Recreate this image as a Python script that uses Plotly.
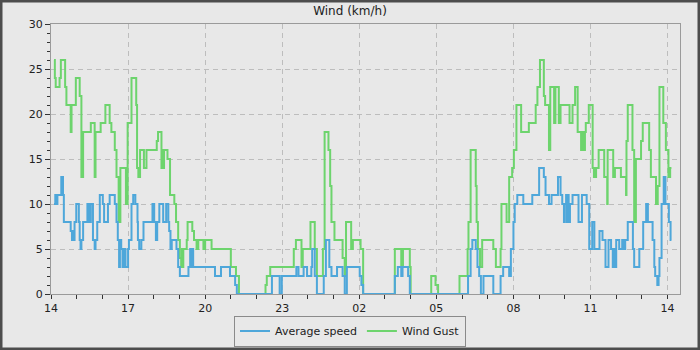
import pandas as pd
import plotly.graph_objects as go

START = "2024-06-14 14:00"
END_MINUTES = 1469

# Change points: minutes after START, value in km/h (step series)
gust_minutes = [7, 9, 11, 20, 23, 33, 36, 46, 48, 58, 67, 71, 72, 73, 75, 93, 102, 104, 116, 127,
                137, 141, 149, 153, 158, 162, 175, 179, 188, 199, 201, 204, 208, 217, 223, 247, 250,
                258, 261, 263, 264, 272, 278, 288, 292, 297, 301, 304, 306, 307, 309, 317, 319, 330,
                334, 340, 344, 356, 360, 375, 420, 432, 439, 501, 504, 512, 567, 572, 585, 588, 606,
                616, 621, 635, 639, 648, 652, 655, 662, 681, 686, 689, 701, 705, 723, 729, 803, 818,
                822, 838, 840, 888, 898, 904, 954, 973, 975, 980, 992, 994, 997, 1002, 1007, 1033,
                1039, 1050, 1052, 1064, 1070, 1077, 1081, 1087, 1098, 1116, 1132, 1136, 1142, 1151,
                1154, 1163, 1166, 1175, 1178, 1186, 1190, 1211, 1218, 1224, 1230, 1238, 1242, 1244,
                1247, 1249, 1256, 1265, 1268, 1270, 1272, 1273, 1279, 1292, 1299, 1300, 1313, 1317,
                1331, 1343, 1344, 1347, 1358, 1362, 1366, 1378, 1382, 1397, 1401, 1413, 1417, 1421,
                1430, 1436, 1442, 1446, 1449]
gust_kmh = [26, 24, 23, 24, 26, 23, 21, 18, 21, 24, 22, 13, 18, 13, 18, 19, 13, 18, 19, 21,
            19, 18, 16, 13, 8, 14, 10, 19, 24, 21, 14, 13, 16, 14, 16, 17, 18,
            14, 16, 14, 16, 15, 11, 10, 8, 6, 4, 3, 5, 3, 5, 6, 8, 7,
            6, 5, 6, 5, 6, 5, 3, 2, 0, 1, 2, 3, 5, 6, 3, 5, 8,
            5, 2, 5, 18, 16, 12, 8, 6, 4, 2, 8, 5, 6, 5, 0, 5, 3,
            5, 3, 0, 2, 1, 0, 2, 5, 8, 16, 12, 8, 5, 3, 6, 5,
            3, 5, 10, 8, 13, 14, 16, 21, 18, 19, 21, 23, 26, 22,
            21, 16, 23, 19, 23, 19, 21, 19, 21, 23, 18, 16, 18, 16,
            18, 19, 21, 14, 13, 14, 13, 14, 16, 13, 10, 16, 13, 14,
            13, 11, 17, 21, 16, 8, 15, 17, 19, 16, 13, 10, 12, 23,
            19, 16, 13, 14, 14]

avg_minutes = [7, 10, 12, 15, 24, 26, 27, 28, 30, 46, 49, 51, 54, 55, 59, 65, 67, 69, 71, 75,
               85, 88, 90, 92, 93, 98, 102, 104, 108, 114, 121, 124, 133, 137, 149, 153, 156, 159,
               161, 164, 167, 170, 174, 180, 182, 188, 192, 197, 202, 203, 206, 211, 216, 237, 241,
               245, 248, 253, 262, 269, 274, 276, 279, 282, 293, 297, 301, 321, 325, 329, 331, 332,
               383, 397, 418, 430, 434, 516, 534, 539, 573, 578, 590, 598, 608, 610, 616, 621, 637,
               642, 650, 655, 668, 681, 686, 691, 721, 725, 729, 803, 810, 818, 821, 834, 838, 974,
               980, 984, 992, 996, 1000, 1004, 1010, 1033, 1050, 1056, 1070, 1074, 1080, 1083, 1089,
               1103, 1124, 1140, 1151, 1155, 1163, 1169, 1184, 1190, 1194, 1198, 1200, 1203, 1205,
               1207, 1209, 1212, 1218, 1232, 1240, 1251, 1257, 1264, 1269, 1281, 1288, 1295, 1302,
               1308, 1312, 1315, 1318, 1320, 1327, 1334, 1338, 1341, 1347, 1359, 1362, 1374, 1383,
               1390, 1394, 1405, 1409, 1411, 1416, 1419, 1421, 1426, 1431, 1435, 1443, 1447, 1449]
avg_kmh = [10, 11, 10, 11, 13, 12, 13, 11, 8, 7, 6, 7, 6, 8, 10, 8, 6, 5, 6, 8,
           10, 8, 10, 8, 10, 6, 5, 6, 8, 11, 10, 8, 10, 11, 10, 8, 6, 3,
           6, 5, 3, 5, 3, 5, 6, 10, 11, 10, 8, 6, 5, 6, 8, 10, 8,
           6, 8, 10, 8, 10, 8, 7, 5, 6, 5, 3, 2, 3, 5, 3, 5, 3,
           2, 3, 2, 1, 0, 2, 0, 2, 3, 2, 3, 2, 3, 5, 2, 0, 2,
           6, 3, 2, 3, 2, 0, 3, 2, 1, 0, 2, 3, 2, 3, 2, 0, 2,
           5, 6, 5, 3, 2, 0, 2, 0, 2, 3, 2, 5, 8, 10, 11,
           10, 11, 14, 13, 11, 10, 11, 13, 11, 10, 8, 10, 11, 8,
           11, 8, 10, 11, 8, 11, 10, 5, 8, 5, 7, 6, 3, 6,
           5, 3, 5, 3, 6, 5, 6, 5, 6, 8, 5, 3, 5, 8,
           10, 8, 6, 3, 2, 1, 2, 4, 10, 13, 10, 8, 6, 6]

t0 = pd.Timestamp(START)
gust_x = [t0 + pd.Timedelta(minutes=m) for m in gust_minutes]
avg_x = [t0 + pd.Timedelta(minutes=m) for m in avg_minutes]

BG = "#e8e8e8"
FONT = "DejaVu Sans"

fig = go.Figure()
fig.add_trace(go.Scatter(x=gust_x, y=gust_kmh, mode="lines", name="Wind Gust",
                         line=dict(color="#6dd46d", width=2, shape="hv")))
fig.add_trace(go.Scatter(x=avg_x, y=avg_kmh, mode="lines", name="Average speed",
                         line=dict(color="#4ea7da", width=2, shape="hv")))

W, H = 700, 350
L, R, T, B = 51, 20, 24, 56
pw, ph = W - L - R, H - T - B

fig.update_layout(
    template="none",
    width=W, height=H,
    margin=dict(l=L, r=R, t=T, b=B, pad=0),
    paper_bgcolor=BG, plot_bgcolor=BG,
    font=dict(family=FONT, size=11, color="#222222"),
    title=dict(text="Wind (km/h)", x=0.5, xref="container", xanchor="center",
               y=1 - 11 / H, yref="container", yanchor="middle",
               font=dict(family=FONT, size=12, color="#222222")),
    showlegend=True,
    legend=dict(orientation="h", x=0.5, xref="container", xanchor="center",
                y=3.5 / H, yref="container", yanchor="bottom",
                bgcolor=BG, bordercolor="#8a8a8a", borderwidth=1,
                traceorder="reversed", font=dict(family=FONT, size=11, color="#222222")),
    xaxis=dict(
        type="date",
        range=[t0, t0 + pd.Timedelta(minutes=END_MINUTES)],
        tick0=t0, dtick=3 * 3600 * 1000, tickformat="%H",
        ticks="outside", ticklen=4, tickcolor="#333333", tickwidth=1,
        showline=True, linecolor="#9a9a9a", linewidth=1, mirror=True,
        showgrid=True, gridcolor="#bdbdbd", griddash="5px,4px", gridwidth=1,
        zeroline=False, automargin=False,
        minor=dict(dtick=3600 * 1000, ticks="outside", ticklen=4, tickcolor="#333333",
                   showgrid=False),
    ),
    yaxis=dict(
        range=[0, 30], dtick=5, tick0=0,
        ticks="outside", ticklen=5, tickcolor="#333333", tickwidth=1,
        showline=True, linecolor="#9a9a9a", linewidth=1, mirror=True,
        showgrid=True, gridcolor="#bdbdbd", griddash="5px,4px", gridwidth=1,
        zeroline=False, automargin=False,
        minor=dict(dtick=1, ticks="outside", ticklen=3, tickcolor="#333333", showgrid=False),
    ),
    shapes=[dict(type="rect", xref="paper", yref="paper",
                 x0=-L / pw, x1=(W - L) / pw, y0=-B / ph, y1=(ph + T) / ph,
                 line=dict(color="#4d4d4d", width=5), fillcolor="rgba(0,0,0,0)", layer="above")],
)

fig.write_html("out.html")
